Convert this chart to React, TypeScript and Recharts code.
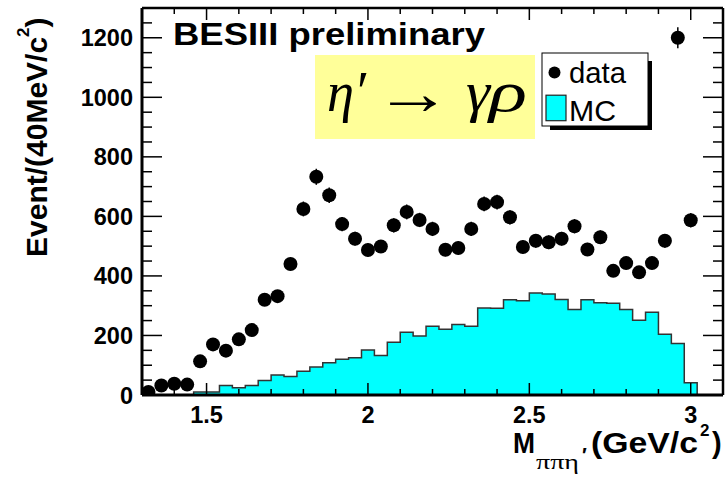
import { ComposedChart, Area, Scatter, ErrorBar, XAxis, YAxis, Legend } from "recharts";

// 40 MeV bins, centres from 1.32 to 3.08 GeV/c^2
const binCenters = [
  1.32, 1.36, 1.4, 1.44, 1.48, 1.52, 1.56, 1.6, 1.64, 1.68, 1.72, 1.76, 1.8, 1.84, 1.88,
  1.92, 1.96, 2.0, 2.04, 2.08, 2.12, 2.16, 2.2, 2.24, 2.28, 2.32, 2.36, 2.4, 2.44, 2.48,
  2.52, 2.56, 2.6, 2.64, 2.68, 2.72, 2.76, 2.8, 2.84, 2.88, 2.92, 2.96, 3.0, 3.04, 3.08,
];

// observed events per bin (first 43 bins, the last two are empty)
const dataCounts = [
  10, 32, 38, 35, 113, 170, 149, 187, 218, 320, 332, 440, 625, 733, 671, 574, 525, 487,
  499, 570, 615, 588, 558, 488, 494, 558, 642, 648, 597, 497, 518, 513, 525, 567, 489,
  530, 417, 443, 412, 443, 518, 1200, 587,
];
const dataErrors = [
  3, 6, 6, 6, 11, 13, 12, 14, 15, 18, 18, 21, 25, 27, 26, 24, 23, 22, 22, 24, 25, 24, 24,
  22, 22, 24, 25, 25, 24, 22, 23, 23, 23, 24, 22, 23, 20, 21, 20, 21, 23, 35, 24,
];

// simulated eta' -> gamma rho spectrum, all 45 bins
const mcCounts = [
  0, 0, 0, 0, 10, 10, 32, 24, 32, 49, 67, 62, 80, 94, 108, 120, 125, 151, 133, 177, 211,
  198, 231, 221, 237, 231, 292, 291, 320, 317, 343, 339, 321, 287, 320, 310, 308, 287,
  251, 278, 204, 173, 41, 0, 0,
];

const xTicks = [
  1.3, 1.4, 1.5, 1.6, 1.7, 1.8, 1.9, 2, 2.1, 2.2, 2.3, 2.4, 2.5, 2.6, 2.7, 2.8, 2.9, 3, 3.1,
];
const xMajorTicks = [1.5, 2, 2.5, 3];
const yTicks = [
  0, 50, 100, 150, 200, 250, 300, 350, 400, 450, 500, 550, 600, 650, 700, 750, 800, 850,
  900, 950, 1000, 1050, 1100, 1150, 1200, 1250, 1300,
];
const yMajorTicks = [0, 200, 400, 600, 800, 1000, 1200];

const legendItems = [
  { label: "data", kind: "marker", width: 57 },
  { label: "MC", kind: "hist", width: 47 },
];

const BIN_HALF = 0.02;
const X_DOMAIN: [number, number] = [1.3, 3.1];
const Y_DOMAIN: [number, number] = [0, 1300];

const dataRows = dataCounts.map((n, i) => ({ m: binCenters[i], n, err: dataErrors[i] }));
// step histogram: one point per lower bin edge, closed at the upper edge
const mcRows = [
  ...mcCounts.map((mc, i) => ({ m: binCenters[i] - BIN_HALF, mc })),
  { m: binCenters[binCenters.length - 1] + BIN_HALF, mc: 0 },
];

const SANS = "'Liberation Sans', Arial, sans-serif";
const SERIF = "'Liberation Serif', 'Times New Roman', serif";
const tickLine = { stroke: "#000", strokeWidth: 1.5 };
const frame = { stroke: "#000", strokeWidth: 3 };

/* ── inward ticks on all four sides of the frame ─────────────────────── */
function BottomTick({ x, y, payload }: any) {
  const major = xMajorTicks.includes(payload.value);
  return (
    <g>
      <line x1={x} x2={x} y1={y} y2={y - (major ? 12 : 6)} {...tickLine} />
      {major && (
        <text x={x} y={y + 28} textAnchor="middle" fontFamily={SANS} fontWeight="bold" fontSize={23.5} fill="#000">
          {payload.value}
        </text>
      )}
    </g>
  );
}

function TopTick({ x, y, payload }: any) {
  const major = xMajorTicks.includes(payload.value);
  return <line x1={x} x2={x} y1={y} y2={y + (major ? 12 : 6)} {...tickLine} />;
}

function LeftTick({ x, y, payload }: any) {
  const major = yMajorTicks.includes(payload.value);
  return (
    <g>
      <line x1={x} x2={x + (major ? 20 : 10)} y1={y} y2={y} {...tickLine} />
      {major && (
        <text x={x - 9} y={y + 8.5} textAnchor="end" fontFamily={SANS} fontWeight="bold" fontSize={23.5} fill="#000">
          {payload.value}
        </text>
      )}
    </g>
  );
}

function RightTick({ x, y, payload }: any) {
  const major = yMajorTicks.includes(payload.value);
  return <line x1={x} x2={x - (major ? 20 : 10)} y1={y} y2={y} {...tickLine} />;
}

function DataMarker({ cx, cy }: any) {
  return <circle cx={cx} cy={cy} r={7} fill="#000" />;
}

/* ── boxed legend with drop shadow ───────────────────────────────────── */
function BoxLegend() {
  return (
    <svg width={118} height={82}>
      <rect x={10} y={10} width={102} height={69} fill="#000" />
      <rect x={2} y={2} width={106} height={73} fill="#fff" stroke="#000" strokeWidth={1} />
      {legendItems.map((item, i) => {
        const base = 32 + i * 37.7;
        return (
          <g key={item.label}>
            {item.kind === "marker" ? (
              <circle cx={14.5} cy={base - 10.5} r={6} fill="#000" />
            ) : (
              <rect x={6} y={base - 25.5} width={20} height={25.5} fill="#00ffff" stroke="#222" strokeWidth={1.2} />
            )}
            <text
              x={29}
              y={base}
              fontFamily={SANS}
              fontSize={29}
              fill="#000"
              textLength={item.width}
              lengthAdjust="spacingAndGlyphs"
            >
              {item.label}
            </text>
          </g>
        );
      })}
    </svg>
  );
}

export default function App() {
  return (
    <div style={{ position: "absolute", left: 0, top: 0, width: 727, height: 477, background: "#fff" }}>
      <ComposedChart width={727} height={477} margin={{ top: 7, right: 3, bottom: 0, left: 0 }}>
        <XAxis
          dataKey="m"
          type="number"
          domain={X_DOMAIN}
          allowDataOverflow
          ticks={xTicks}
          interval={0}
          height={82}
          tickSize={0}
          tickMargin={0}
          tickLine={false}
          axisLine={frame}
          tick={<BottomTick />}
        />
        <XAxis
          xAxisId="top"
          orientation="top"
          dataKey="m"
          type="number"
          domain={X_DOMAIN}
          allowDataOverflow
          ticks={xTicks}
          interval={0}
          height={1}
          tickSize={0}
          tickMargin={0}
          tickLine={false}
          axisLine={{ stroke: "#000", strokeWidth: 2.5 }}
          tick={<TopTick />}
        />
        <YAxis
          type="number"
          domain={Y_DOMAIN}
          allowDataOverflow
          ticks={yTicks}
          interval={0}
          width={142}
          tickSize={0}
          tickMargin={0}
          tickLine={false}
          axisLine={frame}
          tick={<LeftTick />}
        />
        <YAxis
          yAxisId="r"
          orientation="right"
          type="number"
          domain={Y_DOMAIN}
          allowDataOverflow
          ticks={yTicks}
          interval={0}
          width={1}
          tickSize={0}
          tickMargin={0}
          tickLine={false}
          axisLine={{ stroke: "#000", strokeWidth: 2.5 }}
          tick={<RightTick />}
        />
        <Area
          data={mcRows}
          dataKey="mc"
          name="MC"
          type="stepAfter"
          fill="#00ffff"
          fillOpacity={1}
          stroke="#333"
          strokeWidth={1.5}
          isAnimationActive={false}
        />
        <Scatter data={dataRows} dataKey="n" name="data" shape={<DataMarker />} isAnimationActive={false}>
          <ErrorBar dataKey="err" direction="y" width={0} stroke="#000" strokeWidth={1.5} isAnimationActive={false} />
        </Scatter>
        <Legend
          layout="vertical"
          align="center"
          verticalAlign="middle"
          wrapperStyle={{ left: 540, top: 51, width: 118, height: 82 }}
          content={<BoxLegend />}
        />
      </ComposedChart>

      <svg
        width={727}
        height={477}
        style={{ position: "absolute", left: 0, top: 0, pointerEvents: "none" }}
      >
        <text x={173} y={45} fontFamily={SANS} fontWeight="bold" fontSize={32} textLength={312} lengthAdjust="spacingAndGlyphs">
          BESIII preliminary
        </text>

        <rect x={315} y={55} width={220} height={84} fill="#ffff99" />
        <g fontFamily={SERIF} fontSize={56} fill="#000">
          <text x={327} y={111} fontStyle="italic" textLength={27} lengthAdjust="spacingAndGlyphs">η</text>
          <text x={357} y={111}>′</text>
          <text transform="translate(374,114) scale(1.25,1)" fontSize={62}>→</text>
          <text x={466} y={111} fontStyle="italic" textLength={24} lengthAdjust="spacingAndGlyphs">γ</text>
          <text x={489} y={111} fontStyle="italic" textLength={38} lengthAdjust="spacingAndGlyphs">ρ</text>
        </g>

        <g transform="translate(47,257) rotate(-90)">
          <text x={0} y={0} fontFamily={SANS} fontWeight="bold" fontSize={30} fill="#000">
            Event/(40MeV/c
            <tspan fontSize={17} dy={-18}>2</tspan>
            <tspan dy={18}>)</tspan>
          </text>
        </g>

        <g fontFamily={SANS} fontWeight="bold" fill="#000">
          <text x={513} y={453} fontSize={29} textLength={22} lengthAdjust="spacingAndGlyphs">M</text>
          <text x={536} y={469} fontFamily={SERIF} fontWeight="normal" fontSize={21} textLength={43} lengthAdjust="spacingAndGlyphs">
            ππη
          </text>
          <text x={582} y={462} fontSize={20}>′</text>
          <text x={591} y={453} fontSize={29} textLength={107} lengthAdjust="spacingAndGlyphs">(GeV/c</text>
          <text x={700} y={436} fontSize={17}>2</text>
          <text x={712} y={453} fontSize={29}>)</text>
        </g>
      </svg>
    </div>
  );
}
